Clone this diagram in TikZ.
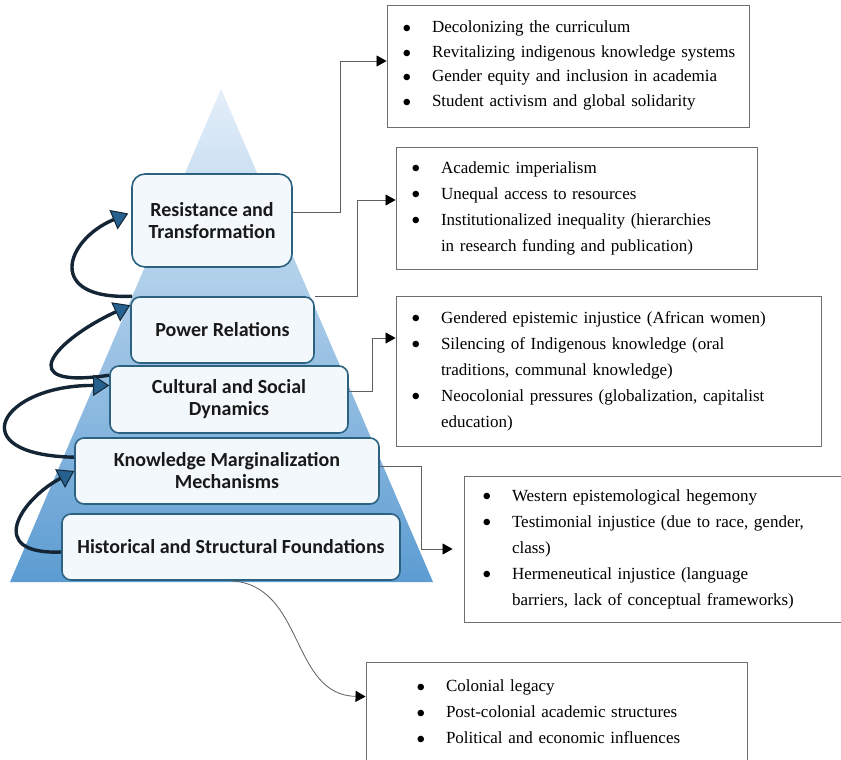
\documentclass[tikz,border=0pt]{standalone}
\usepackage{fontspec}
\setmainfont{Liberation Serif}
\newfontfamily\tierfont{Carlito}
\usetikzlibrary{arrows.meta}
\definecolor{tieredge}{RGB}{44,98,128}
\definecolor{tierfill}{RGB}{242,248,252}
\definecolor{pyrtop}{RGB}{228,239,249}
\definecolor{pyrbase}{RGB}{92,156,210}
\definecolor{listedge}{RGB}{110,110,110}
\definecolor{linkgray}{RGB}{95,95,95}
\definecolor{cycdark}{RGB}{20,38,54}
\definecolor{cycfill}{RGB}{38,96,142}
\newcommand{\li}[1]{\mbox{\makebox[30pt][l]{\raisebox{-0.28em}{\scalebox{1.6}{\textbullet}}}#1}}
\newcommand{\hg}[1]{\mbox{\hspace*{30pt}#1}}

\begin{document}
\begin{tikzpicture}[x=1pt,y=-1pt,
	tier/.style={draw=tieredge, line width=1.6pt, fill=tierfill, rounded corners=9pt,
		align=center, text=black!90, font=\tierfont\bfseries\fontsize{20}{22}\selectfont},
	list/.style={draw=listedge, line width=0.9pt, fill=white, align=left,
		inner xsep=15pt, font=\fontsize{17}{26}\selectfont},
	link/.style={draw=linkgray, line width=0.8pt,
		-{Triangle[length=10pt,width=11pt,color=black]}},
	cyc/.style={draw=cycdark, line width=3.4pt,
		-{Triangle[length=16pt,width=21pt,line width=1pt,fill=cycfill]}}]
	\useasboundingbox (0,0) rectangle (841,760);
	\fill[white] (0,0) rectangle (841,760);
	\shade[top color=pyrtop, bottom color=pyrbase]
		(221,89) -- (433,582) -- (10,582) -- cycle;

	\node[tier, minimum width=160pt, minimum height=93pt, rounded corners=13pt] (RT) at (212,220.5)
		{Resistance and\\Transformation};
	\node[tier, minimum width=183pt, minimum height=66pt] (PR) at (222.5,330)
		{Power Relations};
	\node[tier, minimum width=238pt, minimum height=67pt] (CS) at (229,399.5)
		{Cultural and Social\\Dynamics};
	\node[tier, minimum width=304pt, minimum height=66pt] (KM) at (227,471)
		{Knowledge Marginalization\\Mechanisms};
	\node[tier, minimum width=338pt, minimum height=66pt] (HS) at (231,547)
		{Historical and Structural Foundations};

	\node[list, text width=332pt, minimum height=122pt, font=\fontsize{17}{24.5}\selectfont] (RTL) at (568,66)
		{\li{Decolonizing the curriculum}\\
		 \li{Revitalizing indigenous knowledge systems}\\
		 \li{Gender equity and inclusion in academia}\\
		 \li{Student activism and global solidarity}};
	\node[list, text width=331pt, minimum height=122pt] (PRL) at (576.5,208)
		{\li{Academic imperialism}\\
		 \li{Unequal access to resources}\\
		 \li{Institutionalized inequality (hierarchies}\\
		 \hg{in research funding and publication)}};
	\node[list, text width=395pt, minimum height=150pt] (CSL) at (608.5,371)
		{\li{Gendered epistemic injustice (African women)}\\
		 \li{Silencing of Indigenous knowledge (oral}\\
		 \hg{traditions, communal knowledge)}\\
		 \li{Neocolonial pressures (globalization, capitalist}\\
		 \hg{education)}};
	\node[list, minimum height=146pt, inner xsep=18pt, text width=345pt] (KML) at (654.5,549)
		{\li{Western epistemological hegemony}\\
		 \li{Testimonial injustice (due to race, gender,}\\
		 \hg{class)}\\
		 \li{Hermeneutical injustice (language}\\
		 \hg{barriers, lack of conceptual frameworks)}};
	\node[list, inner xsep=50pt, text width=281pt, minimum height=104pt] (HSL) at (556.5,714)
		{\li{Colonial legacy}\\
		 \li{Post-colonial academic structures}\\
		 \li{Political and economic influences}};

	\draw[link] ([yshift=8pt]RT.east) -- ++(48,0) |- ([yshift=5pt]RTL.west);
	\draw[link] (PR.north east) -- ++(43,0) |- ([yshift=8pt]PRL.west);
	\draw[link] ([yshift=8pt]CS.east) -- ++(24,0) |- ([yshift=33pt]CSL.west);
	\draw[link] ([yshift=5pt]KM.east) -- ++(42,0) |- ([xshift=-11pt]KML.west);
	\draw[link] (HS.south) .. controls (305,585) and (290,695) .. ([yshift=-35pt]HSL.north west);

	\draw[cyc] ([xshift=2pt]PR.north west) .. controls (45,300) and (65,240) .. ([xshift=-3pt,yshift=7pt]RT.west);
	\draw[cyc] ([yshift=-10pt]CS.north west) .. controls (10,390) and (55,340) .. ([yshift=-9pt]PR.north west);
	\draw[cyc] ([yshift=-20pt]KM.north west) .. controls (-40,455) and (0,385) .. ([yshift=14pt]CS.west);
	\draw[cyc] ([yshift=-5pt]HS.west) .. controls (-15,555) and (20,500) .. (KM.west);
\end{tikzpicture}
\end{document}
